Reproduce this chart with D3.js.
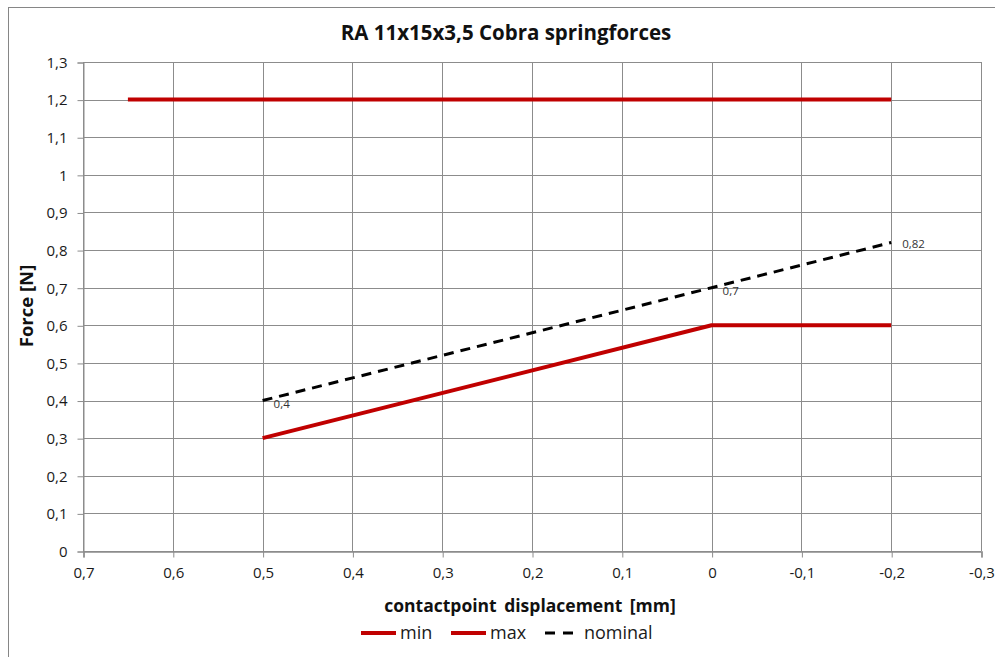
<!DOCTYPE html>
<html>
<head>
<meta charset="utf-8">
<script src="https://cdn.jsdelivr.net/npm/d3@7"></script>
<style>
  body { margin: 0; background: #fff; }
  svg { font-family: "Open Sans", sans-serif; }
</style>
</head>
<body>
<svg id="chart" width="995" height="657"></svg>
<script>
// chart data
const minX = [0.5, 0, -0.2];
const minY = [0.3, 0.6, 0.6];
const maxX = [0.65, -0.2];
const maxY = [1.2, 1.2];
const nominalX = [0.5, 0, -0.2];
const nominalY = [0.4, 0.7, 0.82];
const nominalLabels = ["0,4", "0,7", "0,82"];
const xTicks = [0.7, 0.6, 0.5, 0.4, 0.3, 0.2, 0.1, 0, -0.1, -0.2, -0.3];
const yTicks = [0, 0.1, 0.2, 0.3, 0.4, 0.5, 0.6, 0.7, 0.8, 0.9, 1, 1.1, 1.2, 1.3];
const legendNames = ["min", "max", "nominal"];

const RED = "#c00000";
const GRID = "#8c8c8c";

const svg = d3.select("#chart");

// outer chart frame (right/bottom edges fall outside the picture)
svg.append("rect")
  .attr("x", 8.5).attr("y", 7.5)
  .attr("width", 1000).attr("height", 700)
  .attr("fill", "white").attr("stroke", "#868686").attr("stroke-width", 1);

const x = d3.scaleLinear().domain([0.7, -0.3]).range([83, 981]);
const y = d3.scaleLinear().domain([0, 1.3]).range([551, 62]);

const fmt = v => String(Math.round(v * 10) / 10).replace(".", ",");

// grid
const grid = svg.append("g");
grid.selectAll(".gy").data(yTicks).join("line")
  .attr("x1", x(0.7)).attr("x2", x(-0.3))
  .attr("y1", d => Math.round(y(d)) + 0.5).attr("y2", d => Math.round(y(d)) + 0.5)
  .attr("stroke", GRID).attr("stroke-width", 1);
grid.selectAll(".gx").data(xTicks).join("line")
  .attr("x1", d => Math.round(x(d)) + 0.5).attr("x2", d => Math.round(x(d)) + 0.5)
  .attr("y1", y(1.3)).attr("y2", y(0))
  .attr("stroke", GRID).attr("stroke-width", 1);

// axes
const xAxis = svg.append("g")
  .attr("transform", `translate(0.5,${Math.round(y(0)) + 0.5})`)
  .call(d3.axisBottom(x).tickValues(xTicks).tickFormat(fmt).tickSizeOuter(0).tickSize(6).tickPadding(10));
const yAxis = svg.append("g")
  .attr("transform", `translate(${Math.round(x(0.7)) + 0.5},0.5)`)
  .call(d3.axisLeft(y).tickValues(yTicks).tickFormat(fmt).tickSizeOuter(0).tickSize(6).tickPadding(10));
[xAxis, yAxis].forEach(a => {
  a.selectAll("path, line").attr("stroke", GRID).attr("stroke-width", 1);
  a.selectAll("text").attr("font-family", "'Open Sans', sans-serif").attr("font-size", 15).attr("fill", "#1a1a1a");
});
xAxis.select(".domain").attr("stroke-width", 1.5);

// series
const line = d3.line().x(d => x(d[0])).y(d => y(d[1]));
const minPts = minX.map((v, i) => [v, minY[i]]);
const maxPts = maxX.map((v, i) => [v, maxY[i]]);
const nomPts = nominalX.map((v, i) => [v, nominalY[i]]);

svg.append("path").datum(maxPts).attr("d", line)
  .attr("fill", "none").attr("stroke", RED).attr("stroke-width", 4);
svg.append("path").datum(minPts).attr("d", line)
  .attr("fill", "none").attr("stroke", RED).attr("stroke-width", 4).attr("stroke-linejoin", "round");
svg.append("path").datum(nomPts).attr("d", line)
  .attr("fill", "none").attr("stroke", "#000").attr("stroke-width", 3).attr("stroke-dasharray", "10,7");

// data labels
svg.selectAll(".dl").data(nomPts).join("text")
  .attr("x", d => x(d[0]) + 11)
  .attr("y", (d, i) => y(d[1]) + (i === 2 ? 5 : 7))
  .attr("font-size", 11.5).attr("fill", "#333")
  .text((d, i) => nominalLabels[i]);

// titles
svg.append("text")
  .attr("x", 506).attr("y", 40).attr("text-anchor", "middle")
  .attr("font-size", 20.5).attr("font-weight", "bold").attr("fill", "#111")
  .text("RA 11x15x3,5 Cobra springforces");
svg.append("text")
  .attr("x", 530).attr("y", 612).attr("text-anchor", "middle")
  .attr("font-size", 17.5).attr("font-weight", "bold").attr("fill", "#111")
  .attr("word-spacing", 3)
  .text("contactpoint displacement [mm]");
svg.append("text")
  .attr("transform", "translate(33,306) rotate(-90)")
  .attr("text-anchor", "middle")
  .attr("font-size", 18.5).attr("font-weight", "bold").attr("fill", "#111")
  .text("Force [N]");

// legend
const legendX = [361, 451, 545];
const leg = svg.append("g");
legendNames.forEach((name, i) => {
  const g = leg.append("g").attr("transform", `translate(${legendX[i]},633)`);
  g.append("line").attr("x1", 0).attr("x2", 35).attr("y1", 0).attr("y2", 0)
    .attr("stroke", i < 2 ? RED : "#000")
    .attr("stroke-width", i < 2 ? 4 : 3)
    .attr("stroke-dasharray", i < 2 ? null : "10,8");
  g.append("text").attr("x", 39).attr("y", 6)
    .attr("font-size", 18).attr("fill", "#1a1a1a").text(name);
});
</script>
</body>
</html>
